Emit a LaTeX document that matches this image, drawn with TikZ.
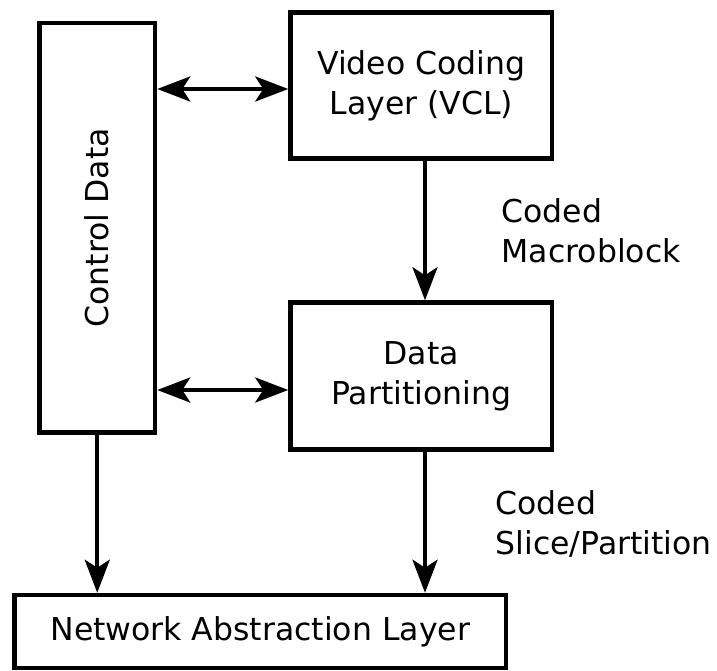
\documentclass[tikz,border=0pt]{standalone}
\usepackage{fontspec}
\setmainfont{DejaVu Sans}
\usetikzlibrary{arrows.meta}

\begin{document}
\begin{tikzpicture}
                    [x=1pt, y=-1pt,
                    blk/.style={rectangle,
                        draw=black, line width=4.5pt,
                        inner sep=0pt, align=center,
                        font=\fontsize{31.5}{40}\selectfont},
                    lbl/.style={anchor=west,
                        inner sep=0pt, align=left,
                        font=\fontsize{31.5}{40}\selectfont},
                    flow/.style={line width=4pt,
                        -{Stealth[length=33pt,width=25pt,inset=8pt]}},
                    both/.style={line width=4pt,
                        {Stealth[length=33pt,width=25pt,inset=8pt]}-{Stealth[length=33pt,width=25pt,inset=8pt]}}]

                    \useasboundingbox (0,0) rectangle (717,671);

                    \node[blk, minimum width=115.5pt, minimum height=409.5pt,
                        label={[rotate=90, font=\fontsize{31.5}{40}\selectfont]center:Control Data}]
                        (ctrl) at (97.25,227.75) {};
                    \node[blk, minimum width=261.5pt, minimum height=146pt]
                        (vcl) at (421.25,85.5) {Video Coding\\Layer (VCL)};
                    \node[blk, minimum width=261.5pt, minimum height=147pt]
                        (dp) at (421.25,376) {Data\\Partitioning};
                    \node[blk, minimum width=491.5pt, minimum height=73pt]
                        (nal) at (260.25,631.5) {Network Abstraction Layer};

                    \node[lbl] (mb) at (501.5,231) {Coded\\Macroblock};
                    \node[lbl] (sp) at (495.5,523.5) {Coded\\Slice/Partition};

                    \coordinate (v1) at ([yshift=-3.5pt]vcl.west);
                    \coordinate (d1) at ([yshift=-14pt]dp.west);
                    \coordinate (v2) at ([xshift=3.75pt]vcl.south);
                    \coordinate (d2) at ([xshift=3.75pt]dp.south);

                    \draw[both] (v1 -| ctrl.east) -- (v1);
                    \draw[both] (d1 -| ctrl.east) -- (d1);

                    \draw[flow] (v2) -- (v2 |- dp.north);
                    \draw[flow] (d2) -- (d2 |- nal.north);
                    \draw[flow] (ctrl.south) -- (ctrl.south |- nal.north);
                \end{tikzpicture}
\end{document}
